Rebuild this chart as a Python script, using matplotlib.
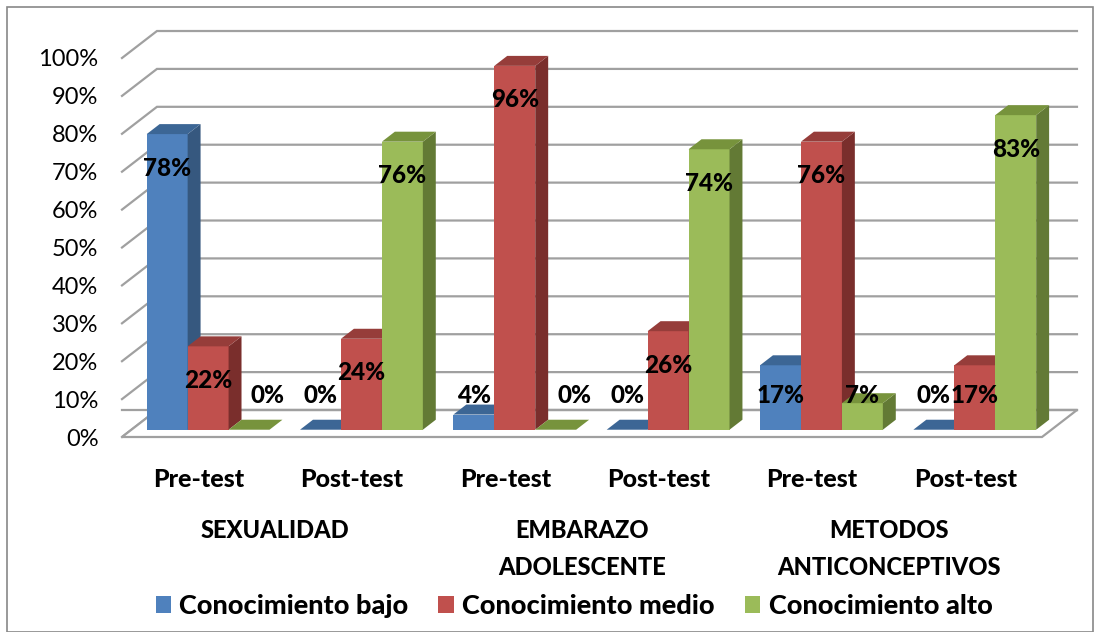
import matplotlib.pyplot as plt
import matplotlib.patches as patches
from matplotlib.transforms import blended_transform_factory

plt.rcParams['font.family'] = ['Lato', 'DejaVu Sans']

# data
groups = ["SEXUALIDAD", "EMBARAZO\nADOLESCENTE", "METODOS\nANTICONCEPTIVOS"]
tests = ["Pre-test", "Post-test"] * 3
series = ["Conocimiento bajo", "Conocimiento medio", "Conocimiento alto"]
bajo = [78, 0, 4, 0, 17, 0]
medio = [22, 24, 96, 26, 76, 17]
alto = [0, 76, 0, 74, 7, 83]
yticks = list(range(0, 101, 10))

front = ['#4F81BD', '#C0504D', '#9BBB59']
top = ['#3C6695', '#963D3A', '#77933C']
side = ['#36587F', '#7A2E2C', '#637A35']
GRID = '#A0A0A0'
BOLD = 'black'

W, H = 1095, 632
fig = plt.figure(figsize=(W / 100, H / 100), dpi=100)
ax = fig.add_axes([122 / W, (H - 437) / H, 920 / W, 379 / H])
n = len(tests)
ax.set_xlim(0, n)
ax.set_ylim(0, 100)
for s in ax.spines.values():
    s.set_visible(False)

# 3d depth of the wall/floor and of the bars (data units)
DX, DY = 0.228, 7.12
a, b = 0.27, 0.37
bw = 0.267
off = (1 - 3 * bw) / 2

# walls: gridlines
for t in yticks:
    ax.plot([0, DX, n + DX], [t, t + DY, t + DY], color=GRID, lw=1.6,
            clip_on=False, zorder=1, solid_joinstyle='miter')
# floor
floor = patches.Polygon([(0, 0), (n, 0), (n + DX, DY), (DX, DY)], closed=True,
                        facecolor='white', edgecolor=GRID, lw=1.6, clip_on=False, zorder=2)
ax.add_patch(floor)
ax.plot([0, DX, n + DX], [DY, DY, DY], color=GRID, lw=1.6, clip_on=False, zorder=2)

yb = a * DY
bx, by = b * DX, b * DY
for i in range(n):
    for k, vals in enumerate([bajo, medio, alto]):
        v = vals[i]
        x0 = i + off + a * DX + k * bw
        z = 3 + i * 3 + k
        if v > 0:
            ax.add_patch(patches.Rectangle((x0, yb), bw, v, facecolor=front[k],
                                           edgecolor='none', clip_on=False, zorder=z))
            ax.add_patch(patches.Polygon([(x0 + bw, yb), (x0 + bw + bx, yb + by),
                                          (x0 + bw + bx, yb + v + by), (x0 + bw, yb + v)],
                                         facecolor=side[k], edgecolor='none',
                                         clip_on=False, zorder=z))
        ax.add_patch(patches.Polygon([(x0, yb + v), (x0 + bw, yb + v),
                                      (x0 + bw + bx, yb + v + by), (x0 + bx, yb + v + by)],
                                     facecolor=top[k], edgecolor='none',
                                     clip_on=False, zorder=z))
        ly = max(v - 9, 9)
        lx = x0 + bw / 2 + (0.12 if (v == 0 and k == 2) else 0)
        ax.text(lx, yb + ly, f"{v}%", ha='center', va='center', fontsize=17.5,
                fontweight=BOLD, color='black', zorder=50)

# axis labels
ax.set_yticks(yticks)
ax.set_yticklabels([f"{t}%" for t in yticks], fontsize=17)
ax.set_xticks([i + 0.5 for i in range(n)])
ax.set_xticklabels(tests, fontsize=18, fontweight=BOLD)
ax.tick_params(axis='y', length=0, pad=17)
ax.tick_params(axis='x', length=0, pad=22)

tr = blended_transform_factory(ax.transData, fig.transFigure)
for g, name in enumerate(groups):
    ax.text(2 * g + 1, 1 - 519 / H, name, transform=tr, ha='center', va='top',
            fontsize=17, fontweight=BOLD, linespacing=1.75)

handles = [patches.Patch(facecolor=c, edgecolor='none') for c in front]
fig.legend(handles, series, loc='center', bbox_to_anchor=(574 / W, 1 - 606 / H),
           ncol=3, frameon=False, handlelength=0.58, handleheight=0.58,
           handletextpad=0.3, columnspacing=1.1,
           prop={'size': 19.5, 'weight': BOLD})

fig.add_artist(patches.Rectangle((7 / W, 0), (W - 9) / W, 1 - 7 / H,
                                 transform=fig.transFigure, fill=False,
                                 edgecolor='#888888', lw=1.2))

fig.savefig('out.png', dpi=100)
